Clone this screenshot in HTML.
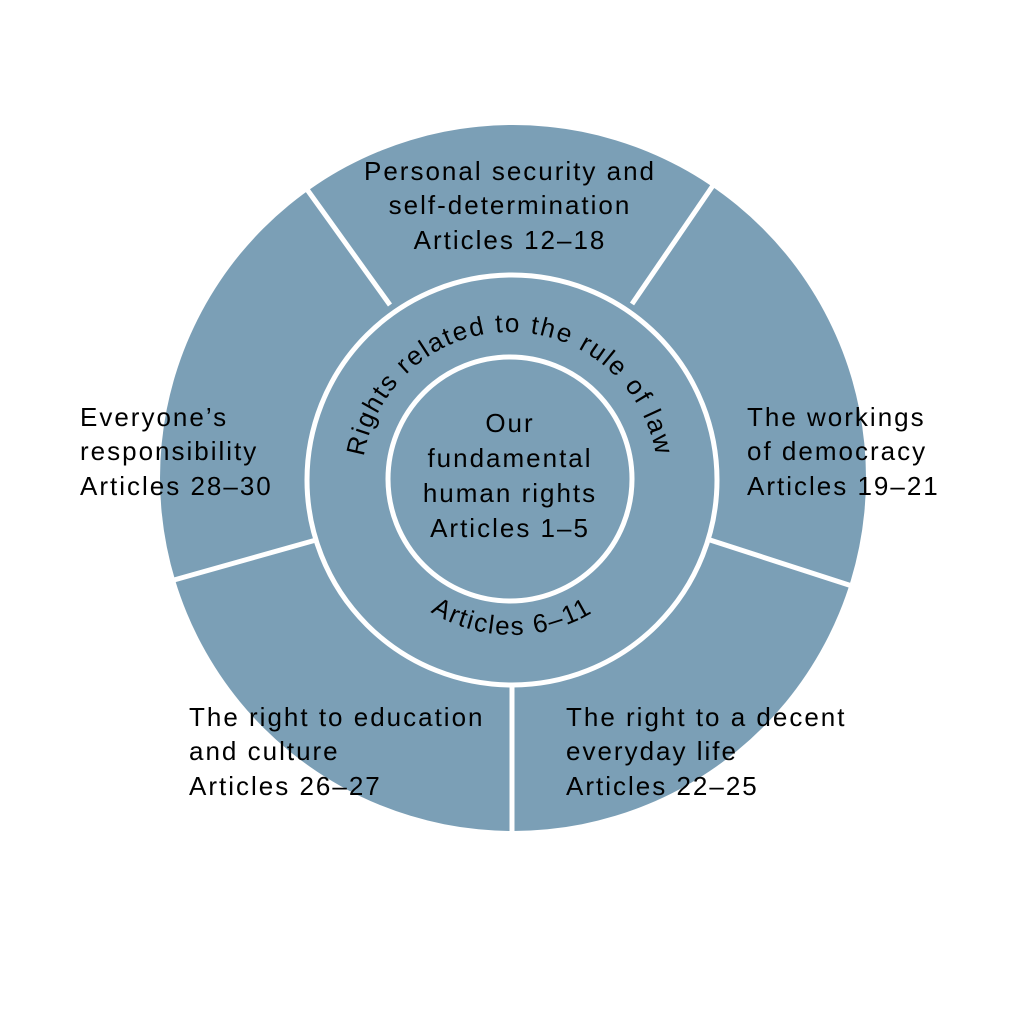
<!DOCTYPE html>
<html><head><style>body{margin:0;background:#fff}svg{display:block}</style></head>
<body>
<svg width="1024" height="1024" viewBox="0 0 1024 1024" xmlns="http://www.w3.org/2000/svg" font-family="Liberation Sans, sans-serif" fill="#000">
<circle cx="513" cy="478" r="353" fill="#7b9fb6"/>
<g stroke="#fff" stroke-width="5">
<line x1="390" y1="305" x2="306" y2="188"/>
<line x1="632" y1="304" x2="714" y2="184"/>
<line x1="710" y1="540" x2="852" y2="586"/>
<line x1="512" y1="685" x2="512" y2="835"/>
<line x1="316" y1="540" x2="174" y2="580"/>
</g>
<circle cx="512" cy="480" r="205" fill="#7b9fb6" stroke="#fff" stroke-width="5"/>
<circle cx="510" cy="479" r="122" fill="#7b9fb6" stroke="#fff" stroke-width="5"/>
<defs>
<path id="top" d="M 362 480 A 148 148 0 0 1 658 480"/>
<path id="bot2" d="M 357 480 A 155 155 0 0 0 667 480"/>
</defs>
<g font-size="26" letter-spacing="1.8">
<text><textPath href="#top" startOffset="50%" text-anchor="middle">Rights related to the rule of law</textPath></text>
<text><textPath href="#bot2" startOffset="50%" text-anchor="middle">Articles 6–11</textPath></text>
</g>
<g font-size="26" letter-spacing="2" text-anchor="middle">
<text x="510" y="432">Our</text>
<text x="510" y="467">fundamental</text>
<text x="510" y="502">human rights</text>
<text x="510" y="537">Articles 1–5</text>
<text x="510" y="180">Personal security and</text>
<text x="510" y="214">self-determination</text>
<text x="510" y="249">Articles 12–18</text>
</g>
<g font-size="26" letter-spacing="2">
<text x="80" y="426">Everyone’s</text>
<text x="80" y="460">responsibility</text>
<text x="80" y="495">Articles 28–30</text>
<text x="747" y="426">The workings</text>
<text x="747" y="460">of democracy</text>
<text x="747" y="495">Articles 19–21</text>
<text x="189" y="726">The right to education</text>
<text x="189" y="760">and culture</text>
<text x="189" y="795">Articles 26–27</text>
<text x="566" y="726">The right to a decent</text>
<text x="566" y="760">everyday life</text>
<text x="566" y="795">Articles 22–25</text>
</g>
</svg>
</body></html>
